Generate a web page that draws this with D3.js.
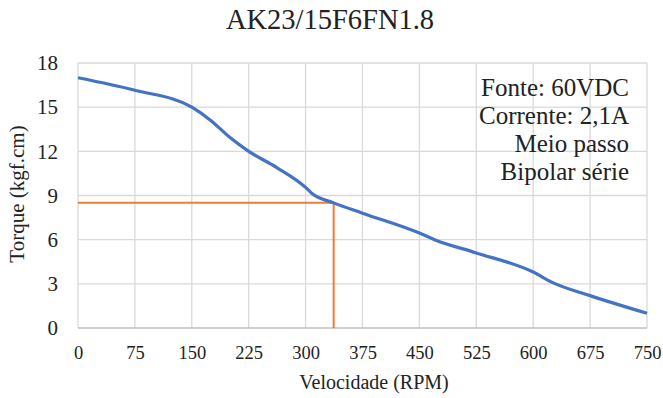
<!DOCTYPE html>
<html>
<head>
<meta charset="utf-8">
<script src="https://cdn.jsdelivr.net/npm/d3@7"></script>
<style>
  body { margin: 0; background: #fff; }
  text { font-family: "Liberation Serif", "Times New Roman", serif; fill: #222; }
</style>
</head>
<body>
<div id="canvas"></div>
<script>
// curve
const velocidade = [0, 75, 150, 175, 200, 225, 262, 300, 308, 337, 375, 450, 470, 525, 600, 625, 675, 750];
const torque = [17.0, 16.15, 15.0, 14.1, 12.95, 12.0, 10.9, 9.55, 9.15, 8.5, 7.8, 6.45, 6.0, 5.1, 3.8, 3.1, 2.2, 1.0];
const xTicks = [0, 75, 150, 225, 300, 375, 450, 525, 600, 675, 750];
const yTicks = [0, 3, 6, 9, 12, 15, 18];
const pontoRpm = 337, pontoTorque = 8.5;
const notas = ["Fonte: 60VDC", "Corrente: 2,1A", "Meio passo", "Bipolar série"];

let W = 663, H = 398
  , margin = { left: 78, right: 16, top: 63, bottom: 70 }
  , width = W - margin.left - margin.right
  , height = H - margin.top - margin.bottom;

let svg = d3.select("#canvas").append("svg")
  .attr("width", W).attr("height", H)
  , g = svg.append("g").attr("transform", "translate(" + margin.left + "," + margin.top + ")");

let x = d3.scaleLinear().domain([0, 750]).range([0, width]);
let y = d3.scaleLinear().domain([0, 18]).range([height, 0]);

// grid
g.selectAll(".gx").data(xTicks).enter().append("line")
  .attr("x1", d => x(d)).attr("x2", d => x(d))
  .attr("y1", 0).attr("y2", height)
  .attr("stroke", "#d9d9d9").attr("stroke-width", 1.3);
g.selectAll(".gy").data(yTicks).enter().append("line")
  .attr("x1", 0).attr("x2", width)
  .attr("y1", d => y(d)).attr("y2", d => y(d))
  .attr("stroke", d => d === 0 ? "#bfbfbf" : "#d9d9d9").attr("stroke-width", 1.3);

// axes (labels only)
let xAxis = g.append("g").attr("transform", "translate(0," + height + ")")
  .call(d3.axisBottom(x).tickValues(xTicks).tickSize(0).tickPadding(18));
let yAxis = g.append("g")
  .call(d3.axisLeft(y).tickValues(yTicks).tickSize(0).tickPadding(20));
xAxis.select(".domain").remove();
yAxis.select(".domain").remove();
xAxis.selectAll("text").style("font-family", "Liberation Serif").style("font-size", "18.5px").attr("fill", "#222");
yAxis.selectAll("text").style("font-family", "Liberation Serif").style("font-size", "21px").attr("fill", "#222");

// operating point lines
g.append("path")
  .attr("d", "M" + x(0) + "," + y(pontoTorque) + "H" + x(pontoRpm) + "V" + y(0))
  .attr("fill", "none").attr("stroke", "#ED7D31").attr("stroke-width", 2);

// torque curve
let pts = velocidade.map((v, i) => [v, torque[i]]);
let line = d3.line().x(d => x(d[0])).y(d => y(d[1])).curve(d3.curveMonotoneX);
g.append("path").datum(pts)
  .attr("d", line)
  .attr("fill", "none").attr("stroke", "#4472C4").attr("stroke-width", 3.2)
  .attr("stroke-linejoin", "round");

// notes
g.append("g").selectAll("text").data(notas).enter().append("text")
  .attr("x", width - 18).attr("y", (d, i) => 33 + i * 28)
  .attr("text-anchor", "end").style("font-size", "25px")
  .text(d => d);

// titles
svg.append("text").attr("x", 330).attr("y", 29).attr("text-anchor", "middle")
  .style("font-size", "28.5px").text("AK23/15F6FN1.8");
svg.append("text").attr("x", 374).attr("y", 389).attr("text-anchor", "middle")
  .style("font-size", "20px").text("Velocidade (RPM)");
svg.append("text").attr("transform", "translate(24,194) rotate(-90)")
  .attr("text-anchor", "middle").style("font-size", "21px").text("Torque (kgf.cm)");
</script>
</body>
</html>
